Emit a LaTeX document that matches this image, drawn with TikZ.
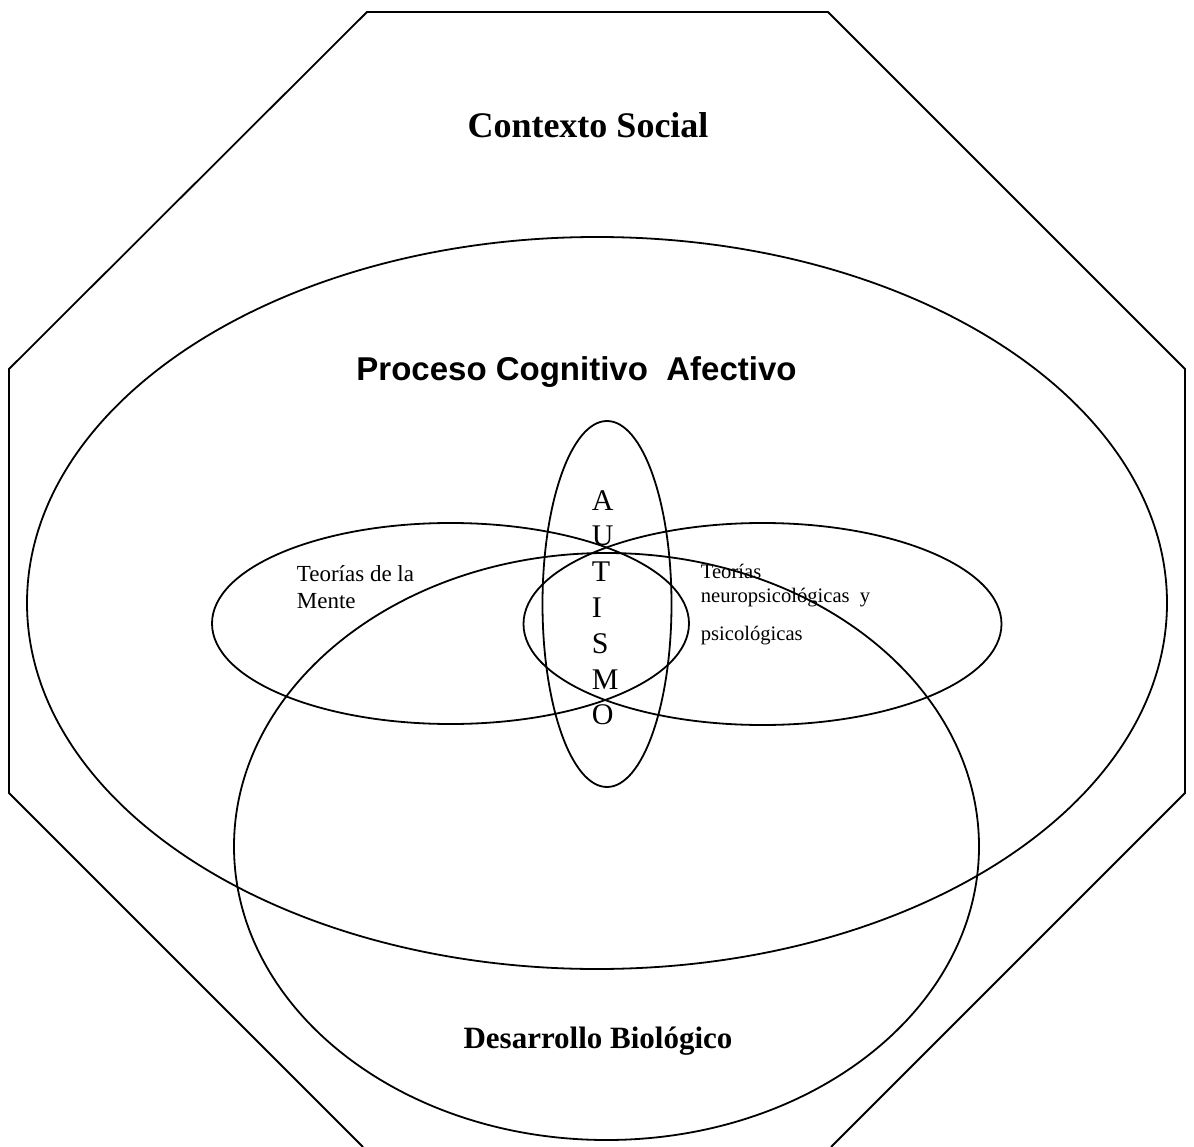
\documentclass[tikz,border=0pt]{standalone}
\usepackage{fontspec}
\setmainfont{Liberation Serif}
\newfontfamily\arialfont{Liberation Sans}
\usetikzlibrary{shapes.geometric}
\begin{document}
\begin{tikzpicture}[x=1pt,y=-1pt,
  line width=1.8pt,
  region/.style={draw, ellipse, inner sep=0pt, line width=1.8pt},
  bigtitle/.style={font=\bfseries\fontsize{36}{40}\selectfont, anchor=base, inner sep=0pt},
  sanstitle/.style={font=\arialfont\bfseries\fontsize{33}{38}\selectfont, anchor=base, inner sep=0pt},
  biotitle/.style={font=\bfseries\fontsize{31}{36}\selectfont, anchor=base, inner sep=0pt},
  mindlabel/.style={font=\fontsize{23}{27}\selectfont, anchor=base west, inner sep=0pt},
  neurolabel/.style={font=\fontsize{20.6}{24}\selectfont, anchor=base west, inner sep=0pt},
  letter/.style={font=\fontsize{30}{36}\selectfont, anchor=base west, inner sep=0pt}]
\useasboundingbox (0,0) rectangle (1194,1147);
% outer octagon (Contexto Social), cut by the lower edge
\coordinate (o1) at (363,1147);
\coordinate (o2) at (9,793);
\coordinate (o3) at (9,369);
\coordinate (o4) at (367,12);
\coordinate (o5) at (828,12);
\coordinate (o6) at (1185,369);
\coordinate (o7) at (1185,793);
\coordinate (o8) at (831,1147);
\draw (o1) -- (o2) -- (o3) -- (o4) -- (o5) -- (o6) -- (o7) -- (o8);
% ellipses
\node[region, minimum width=1140pt, minimum height=732pt] (proceso) at (597,603) {};
\node[region, minimum width=745pt, minimum height=587pt] (biologico) at (606.5,846.5) {};
\node[region, minimum width=477pt, minimum height=201pt] (mente) at (450.5,623.5) {};
\node[region, minimum width=478pt, minimum height=202pt] (neuro) at (762.5,624) {};
\node[region, minimum width=129pt, minimum height=366pt] (autismo) at (607,604) {};
% titles
\node[bigtitle] (tcontexto) at (588,138) {Contexto Social};
\node[sanstitle] (tproceso) at (576.5,381) {Proceso Cognitivo\ \ Afectivo};
\node[biotitle] (tbio) at (598,1048) {Desarrollo Biológico};
% labels
\node[mindlabel] (tm1) at (296,581) {Teorías de la};
\node[mindlabel] (tm2) at (296,608) {Mente};
\node[neurolabel] (tn1) at (700,578) {Teorías};
\node[neurolabel] (tn2) at (700,602) {neuropsicológicas\ \ y};
\node[neurolabel] (tn3) at (700,640) {psicológicas};
% AUTISMO
\node[letter] (la) at (591,510) {A};
\node[letter] (lu) at (591,545.8) {U};
\node[letter] (lt) at (591,581.6) {T};
\node[letter] (li) at (591,617.4) {I};
\node[letter] (ls) at (591,653.2) {S};
\node[letter] (lm) at (591,689) {M};
\node[letter] (lo) at (591,724.8) {O};
\end{tikzpicture}
\end{document}
